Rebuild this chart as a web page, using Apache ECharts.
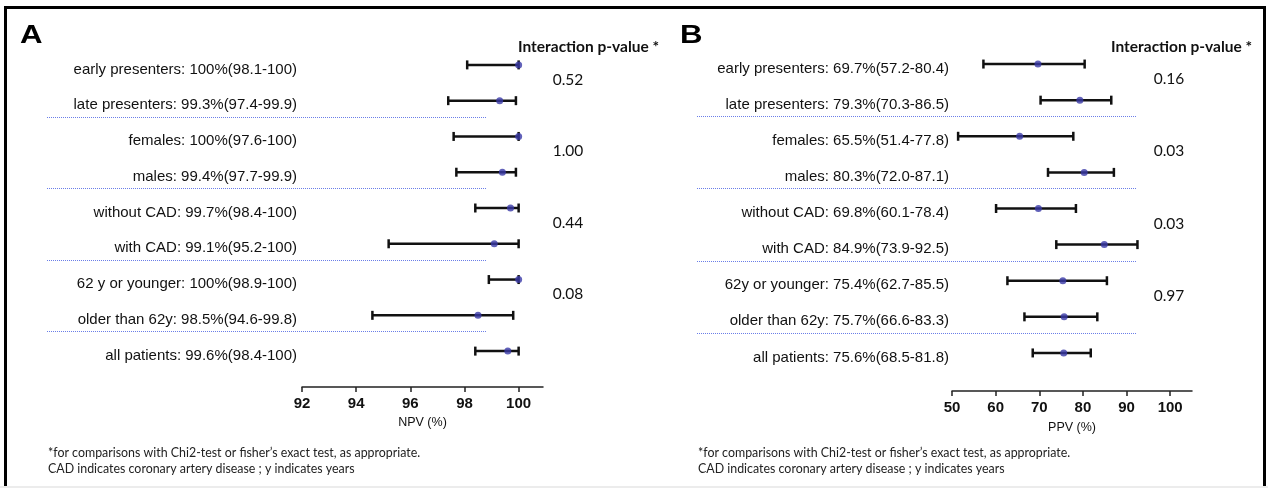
<!DOCTYPE html>
<html><head><meta charset="utf-8">
<script src="https://cdn.jsdelivr.net/npm/echarts@6/dist/echarts.min.js"></script>
<style>html,body{margin:0;padding:0;background:#fff}#c{width:1268px;height:488px}</style>
</head><body><div id="c"></div>
<script>
// ---------- data ----------
const npvLabels = [
  'early presenters: 100%(98.1-100)',
  'late presenters: 99.3%(97.4-99.9)',
  'females: 100%(97.6-100)',
  'males: 99.4%(97.7-99.9)',
  'without CAD: 99.7%(98.4-100)',
  'with CAD: 99.1%(95.2-100)',
  '62 y or younger: 100%(98.9-100)',
  'older than 62y: 98.5%(94.6-99.8)',
  'all patients: 99.6%(98.4-100)'
];
const npvPoint = [100, 99.3, 100, 99.4, 99.7, 99.1, 100, 98.5, 99.6];
const npvLow   = [98.1, 97.4, 97.6, 97.7, 98.4, 95.2, 98.9, 94.6, 98.4];
const npvHigh  = [100, 99.9, 100, 99.9, 100, 100, 100, 99.8, 100];
const npvPValues = ['0.52', '1.00', '0.44', '0.08'];
const npvTicks = [92, 94, 96, 98, 100];

const ppvLabels = [
  'early presenters: 69.7%(57.2-80.4)',
  'late presenters: 79.3%(70.3-86.5)',
  'females: 65.5%(51.4-77.8)',
  'males: 80.3%(72.0-87.1)',
  'without CAD: 69.8%(60.1-78.4)',
  'with CAD: 84.9%(73.9-92.5)',
  '62y or younger: 75.4%(62.7-85.5)',
  'older than 62y: 75.7%(66.6-83.3)',
  'all patients: 75.6%(68.5-81.8)'
];
const ppvPoint = [69.7, 79.3, 65.5, 80.3, 69.8, 84.9, 75.4, 75.7, 75.6];
const ppvLow   = [57.2, 70.3, 51.4, 72.0, 60.1, 73.9, 62.7, 66.6, 68.5];
const ppvHigh  = [80.4, 86.5, 77.8, 87.1, 78.4, 92.5, 85.5, 83.3, 81.8];
const ppvPValues = ['0.16', '0.03', '0.03', '0.97'];
const ppvTicks = [50, 60, 70, 80, 90, 100];

const groupFirstRows = [0, 2, 4, 6];   // p-value belongs to row pair (r, r+1)
const separatorAfterRows = [1, 3, 5, 7];

const headerText = 'Interaction p-value *';
const footnote1 = '*for comparisons with Chi2-test or fisher\u2019s exact test, as appropriate.';
const footnote2 = 'CAD indicates coronary artery disease ; y indicates years';

// ---------- styling ----------
const ARIAL = "'Liberation Sans',Arial,sans-serif";
const CAL = "Lato,'Open Sans',sans-serif";
const DOT_COLOR = '#3a3aa8';
const SEP_COLOR = '#6a7ee8';

function panel(idx, cfg) {
  const axisMin = cfg.min;
  const xAxis = {
    gridIndex: idx, type: 'value', min: cfg.min, max: cfg.max, interval: cfg.interval,
    offset: cfg.offset,
    axisLine: { show: true, lineStyle: { color: '#222', width: 1.5 } },
    axisTick: { show: true, customValues: cfg.ticks, length: 5, inside: false, lineStyle: { color: '#222', width: 1.5 } },
    axisLabel: { customValues: cfg.ticks, margin: 9, fontFamily: ARIAL, fontWeight: 'bold', fontSize: 15, color: '#111',
      formatter: v => (cfg.ticks.indexOf(v) >= 0 ? String(v) : '') },
    splitLine: { show: false },
    name: cfg.name, nameLocation: 'middle', nameGap: cfg.nameGap,
    nameTextStyle: { fontFamily: ARIAL, fontSize: 12.5, color: '#111' }
  };
  const yAxis = {
    gridIndex: idx, type: 'category', data: cfg.labels, inverse: true,
    axisLine: { show: false }, axisTick: { show: false }, splitLine: { show: false },
    axisLabel: { margin: cfg.labelMargin, fontFamily: ARIAL, fontSize: 15, color: '#111', lineHeight: 9,
      verticalAlign: 'top' }
  };
  const series = [
    {
      type: 'custom', xAxisIndex: idx, yAxisIndex: idx, silent: true,
      data: cfg.low.map((l, i) => [l, cfg.high[i], i]),
      encode: { x: [0, 1], y: 2 },
      renderItem: (params, api) => {
        const p1 = api.coord([api.value(0), api.value(2)]);
        const p2 = api.coord([api.value(1), api.value(2)]);
        const h = 4.5;
        const style = { stroke: '#111', lineWidth: 2.5 };
        return { type: 'group', children: [
          { type: 'line', shape: { x1: p1[0], y1: p1[1], x2: p2[0], y2: p2[1] }, style },
          { type: 'line', shape: { x1: p1[0], y1: p1[1] - h, x2: p1[0], y2: p1[1] + h }, style },
          { type: 'line', shape: { x1: p2[0], y1: p2[1] - h, x2: p2[0], y2: p2[1] + h }, style }
        ] };
      }
    },
    {
      type: 'scatter', xAxisIndex: idx, yAxisIndex: idx, silent: true,
      data: cfg.point.map((v, i) => [v, i]),
      symbol: 'circle', symbolSize: 7, itemStyle: { color: DOT_COLOR }
    },
    {
      type: 'custom', xAxisIndex: idx, yAxisIndex: idx, silent: true,
      data: separatorAfterRows.map(r => [axisMin, r]),
      encode: { x: 0, y: 1 },
      renderItem: (params, api) => {
        const r = api.value(1);
        const a = api.coord([axisMin, r]);
        const b = api.coord([axisMin, r + 1]);
        const y = Math.round((a[1] + b[1]) / 2 - 2) + 0.5;
        return { type: 'line', shape: { x1: a[0] - 255, y1: y, x2: a[0] + 185, y2: y },
          style: { stroke: SEP_COLOR, lineWidth: 1, lineDash: [1, 1] } };
      }
    },
    {
      type: 'custom', xAxisIndex: idx, yAxisIndex: idx, silent: true,
      data: groupFirstRows.map((r, k) => [axisMin, r, k]),
      encode: { x: 0, y: 1 },
      renderItem: (params, api) => {
        const r = api.value(1);
        const k = api.value(2);
        const a = api.coord([axisMin, r]);
        const b = api.coord([axisMin, r + 1]);
        return { type: 'text', x: a[0] + cfg.pOffset, y: (a[1] + b[1]) / 2 - 3,
          style: { text: cfg.pvalues[k], fill: '#111', font: '15.5px ' + CAL, align: 'center', verticalAlign: 'middle' } };
      }
    }
  ];
  return { xAxis, yAxis, series };
}

const A = panel(0, { min: 92, max: 100.9, interval: 2, offset: 18, ticks: npvTicks, name: 'NPV (%)', nameGap: 29,
  labels: npvLabels, point: npvPoint, low: npvLow, high: npvHigh, pvalues: npvPValues, labelMargin: 5, pOffset: 266 });
const B = panel(1, { min: 50, max: 105, interval: 10, offset: 20, ticks: ppvTicks, name: 'PPV (%)', nameGap: 30,
  labels: ppvLabels, point: ppvPoint, low: ppvLow, high: ppvHigh, pvalues: ppvPValues, labelMargin: 3, pOffset: 217 });

const chart = echarts.init(document.getElementById('c'), null, { renderer: 'canvas' });
chart.setOption({
  backgroundColor: '#fff',
  animation: false,
  grid: [
    { left: 302, width: 241, top: 47, height: 322 },
    { left: 952, width: 240, top: 46, height: 325 }
  ],
  xAxis: [A.xAxis, B.xAxis],
  yAxis: [A.yAxis, B.yAxis],
  series: [...A.series, ...B.series],
  graphic: [
    { type: 'rect', shape: { x: 5.5, y: 7.5, width: 1259, height: 520 }, style: { fill: 'none', stroke: '#000', lineWidth: 3 }, z: 100 },
    { type: 'rect', shape: { x: 0, y: 486, width: 1268, height: 2 }, style: { fill: '#ececec' }, z: 101 },
    { type: 'text', x: 20, y: 36, scaleX: 1.2, style: { text: 'A', font: 'bold 26px ' + ARIAL, fill: '#000', verticalAlign: 'middle' } },
    { type: 'text', x: 680, y: 36, scaleX: 1.2, style: { text: 'B', font: 'bold 26px ' + ARIAL, fill: '#000', verticalAlign: 'middle' } },
    { type: 'text', x: 518, y: 47, style: { text: headerText, font: 'bold 15.5px ' + CAL, fill: '#111', verticalAlign: 'middle' } },
    { type: 'text', x: 1111, y: 47, style: { text: headerText, font: 'bold 15.5px ' + CAL, fill: '#111', verticalAlign: 'middle' } },
    { type: 'text', x: 48, y: 453, style: { text: footnote1, font: '12.4px ' + CAL, fill: '#222', verticalAlign: 'middle' } },
    { type: 'text', x: 48, y: 469, style: { text: footnote2, font: '12.4px ' + CAL, fill: '#222', verticalAlign: 'middle' } },
    { type: 'text', x: 698, y: 453, style: { text: footnote1, font: '12.4px ' + CAL, fill: '#222', verticalAlign: 'middle' } },
    { type: 'text', x: 698, y: 469, style: { text: footnote2, font: '12.4px ' + CAL, fill: '#222', verticalAlign: 'middle' } }
  ]
});
</script>
</body></html>
